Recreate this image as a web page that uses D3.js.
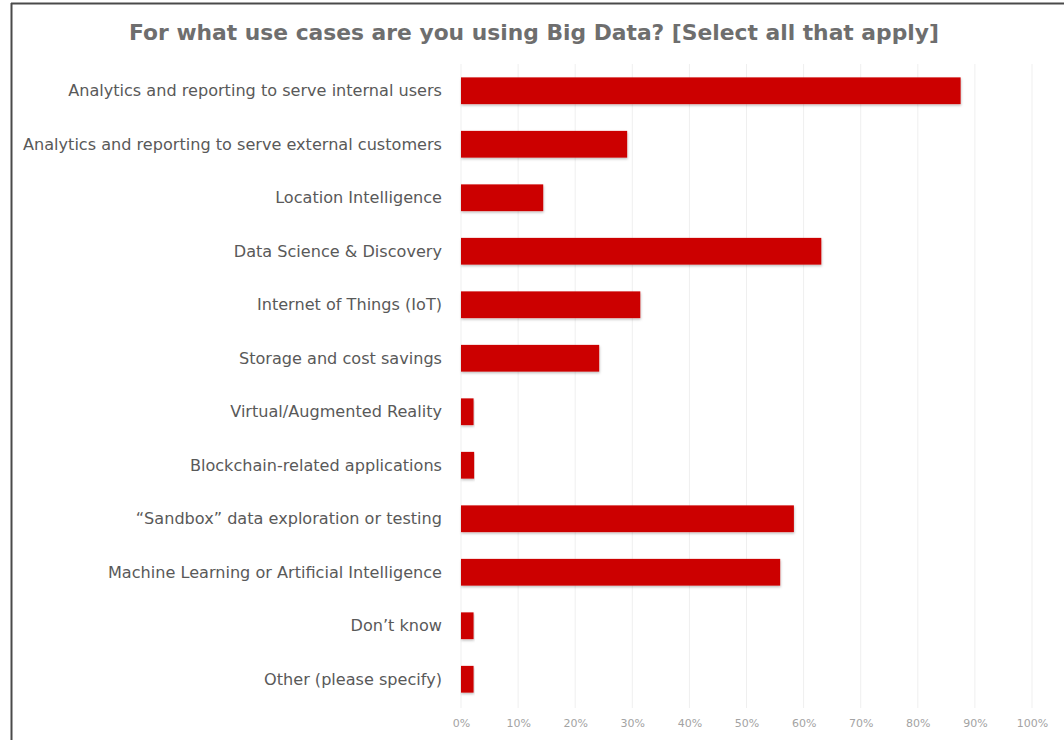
<!DOCTYPE html>
<html>
<head>
<meta charset="utf-8">
<script src="https://cdn.jsdelivr.net/npm/d3@7"></script>
<style>
  html, body { margin: 0; padding: 0; background: #fff; }
  svg { display: block; }
</style>
</head>
<body>
<svg id="chart" width="1064" height="740"></svg>
<script>
// Survey answers, one row per use case (share of respondents)
const categories = [
  "Analytics and reporting to serve internal users",
  "Analytics and reporting to serve external customers",
  "Location Intelligence",
  "Data Science & Discovery",
  "Internet of Things (IoT)",
  "Storage and cost savings",
  "Virtual/Augmented Reality",
  "Blockchain-related applications",
  "\u201CSandbox\u201D data exploration or testing",
  "Machine Learning or Artificial Intelligence",
  "Don\u2019t know",
  "Other (please specify)"
];
const shares = [0.875, 0.291, 0.144, 0.631, 0.314, 0.242, 0.022, 0.023, 0.583, 0.559, 0.022, 0.022];
const tickValues = [0, 0.1, 0.2, 0.3, 0.4, 0.5, 0.6, 0.7, 0.8, 0.9, 1.0];
const title = "For what use cases are you using Big Data? [Select all that apply]";

const svg = d3.select("#chart");
const W = 1064, H = 740;

// frame: dark rule along the top and the left edge
svg.append("rect").attr("x", 0).attr("y", 0).attr("width", W).attr("height", H).attr("fill", "#fff");
svg.append("line").attr("x1", 11).attr("x2", W).attr("y1", 3.5).attr("y2", 3.5)
  .attr("stroke", "#4a4a4a").attr("stroke-width", 2);
svg.append("line").attr("x1", 11.5).attr("x2", 11.5).attr("y1", 3).attr("y2", H)
  .attr("stroke", "#4a4a4a").attr("stroke-width", 2);

const defs = svg.append("defs");
const f = defs.append("filter").attr("id", "shadow")
  .attr("x", "-5%").attr("y", "-20%").attr("width", "110%").attr("height", "160%");
f.append("feDropShadow").attr("dx", 0.5).attr("dy", 1.5).attr("stdDeviation", 1)
  .attr("flood-color", "#000").attr("flood-opacity", 0.25);

const x = d3.scaleLinear().domain([0, 1]).range([461, 1032]);
const y = d3.scaleBand().domain(categories).range([64, 706])
  .paddingInner(0.5).paddingOuter(0.25);

// title
svg.append("text")
  .attr("x", 534).attr("y", 40)
  .attr("text-anchor", "middle")
  .attr("font-family", "DejaVu Sans, Verdana, sans-serif")
  .attr("font-weight", "bold")
  .attr("font-size", 21.8)
  .attr("fill", "#6e6e6e")
  .text(title);

// vertical gridlines
svg.append("g").selectAll("line").data(tickValues).join("line")
  .attr("x1", d => x(d)).attr("x2", d => x(d))
  .attr("y1", 64).attr("y2", 708)
  .attr("stroke", "#efefef").attr("stroke-width", 1);

// bars
svg.append("g").selectAll("rect").data(shares).join("rect")
  .attr("x", x(0))
  .attr("y", (d, i) => y(categories[i]))
  .attr("width", d => x(d) - x(0))
  .attr("height", y.bandwidth())
  .attr("fill", "#cc0000")
  .attr("filter", "url(#shadow)");

// category labels
svg.append("g").selectAll("text").data(categories).join("text")
  .attr("x", 442)
  .attr("y", d => y(d) + y.bandwidth() / 2)
  .attr("dy", "0.35em")
  .attr("text-anchor", "end")
  .attr("font-family", "DejaVu Sans, Verdana, sans-serif")
  .attr("font-size", 16.1)
  .attr("fill", "#595959")
  .text(d => d);

// x axis tick labels
const xAxis = d3.axisBottom(x).tickValues(tickValues).tickFormat(d3.format(".0%")).tickSize(0).tickPadding(0);
const ax = svg.append("g").attr("transform", "translate(0,719)").call(xAxis);
ax.select(".domain").remove();
ax.selectAll("text")
  .attr("font-family", "DejaVu Sans, Verdana, sans-serif")
  .attr("font-size", 11)
  .attr("fill", "#a3a3a3");
</script>
</body>
</html>
